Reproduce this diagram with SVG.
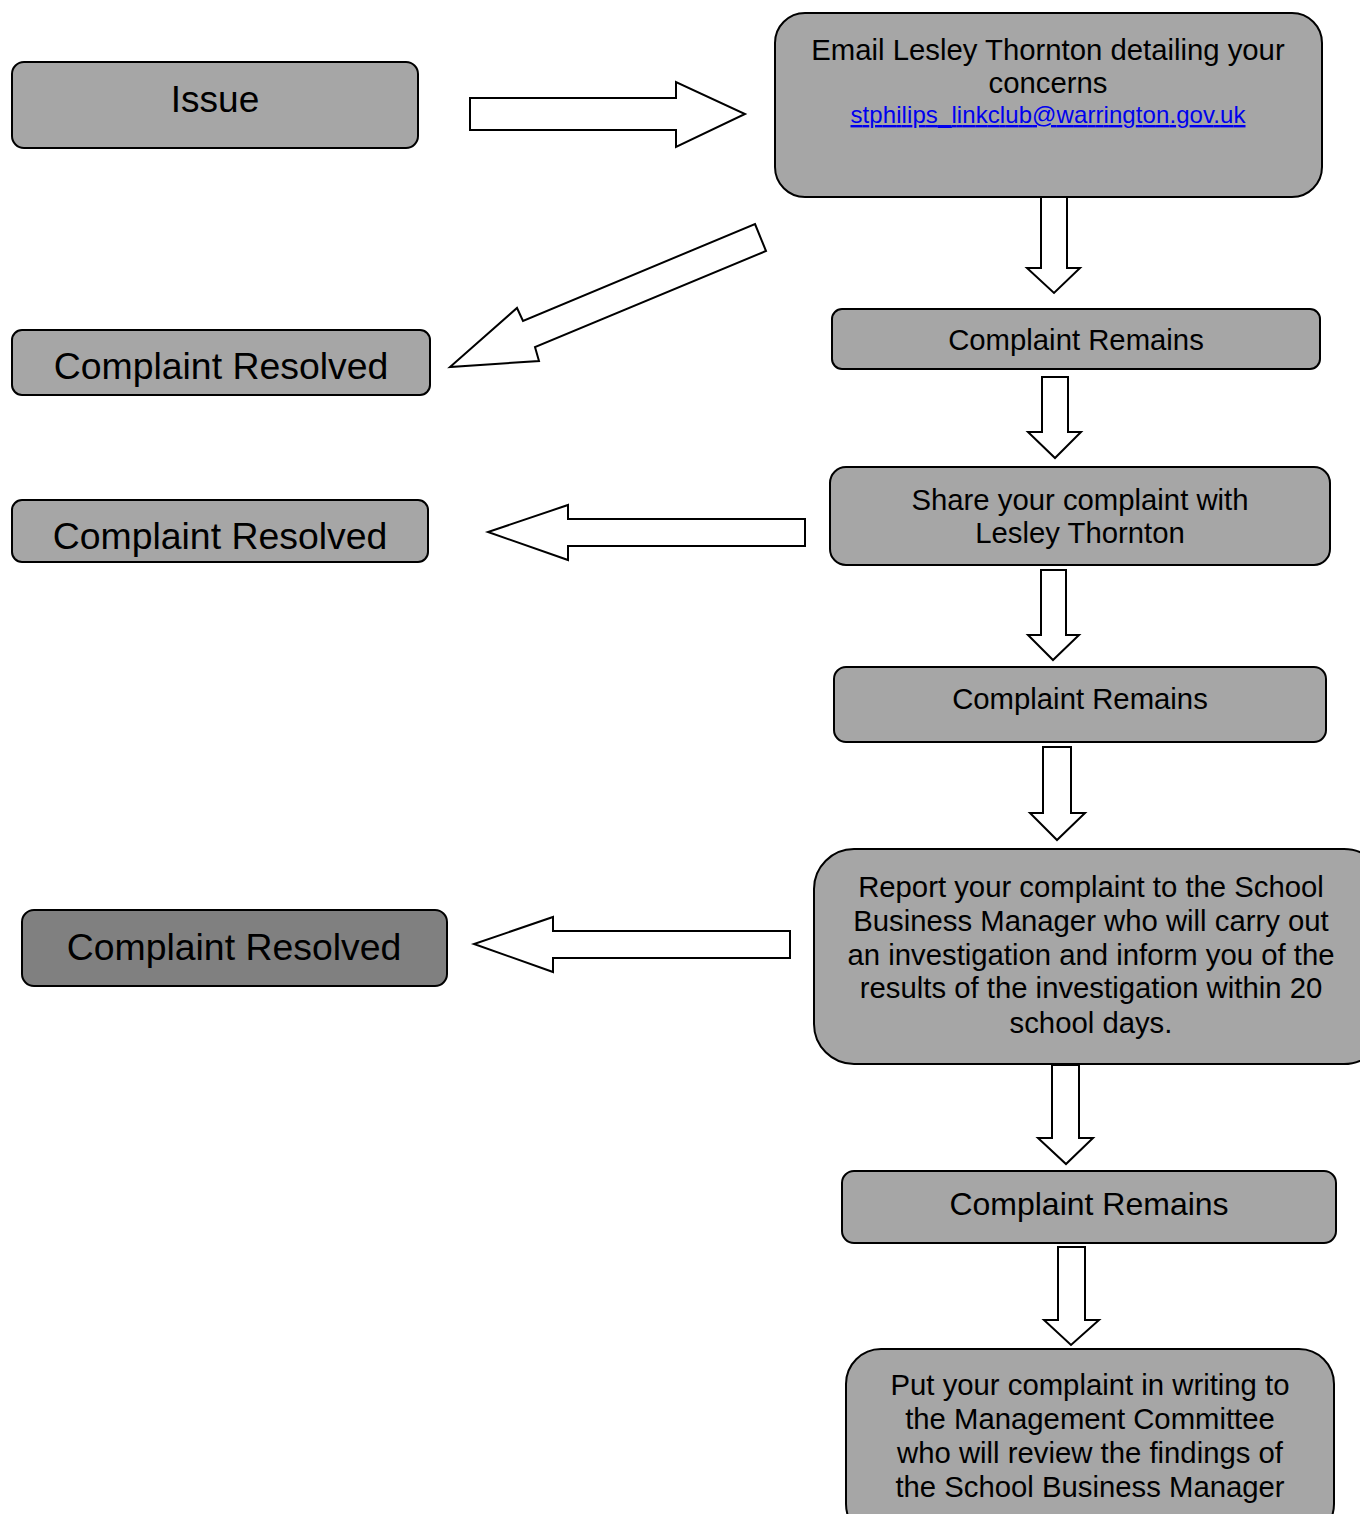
<svg xmlns="http://www.w3.org/2000/svg" width="1360" height="1514" viewBox="0 0 1360 1514">
<style>
.box{fill:#a6a6a6;stroke:#000;stroke-width:2}
.dark{fill:#808080;stroke:#000;stroke-width:2}
.arr{fill:#fff;stroke:#000;stroke-width:2;stroke-linejoin:miter}
text{font-family:"Liberation Sans",Arial,sans-serif;fill:#000;text-anchor:middle}
.big{font-size:37.4px}
.mid{font-size:29.3px}
.rem{font-size:29.3px}
.link{font-size:24px;fill:#0000ee;text-decoration:underline}
</style>
<rect width="1360" height="1514" fill="#fff"/>
<g id="connectors">
<polygon class="arr" points="470,98 676,98 676,82 745,114 676,147 676,130 470,130"/>
<polygon class="arr" points="755,224 766,251 535,347 539,361 450,367 517,308 523,321"/>
<polygon class="arr" points="1041,197 1067,197 1067,268 1080,268 1054,293 1027,268 1041,268"/>
<polygon class="arr" points="1042,377 1068,377 1068,432 1081,432 1055,458 1028,432 1042,432"/>
<polygon class="arr" points="805,519 568,519 568,505 488,532 568,560 568,546 805,546"/>
<polygon class="arr" points="1041,570 1066,570 1066,635 1079,635 1053,660 1028,635 1041,635"/>
<polygon class="arr" points="1043,747 1071,747 1071,813 1085,813 1057,840 1030,813 1043,813"/>
<polygon class="arr" points="790,931 553,931 553,917 474,944 553,972 553,958 790,958"/>
<polygon class="arr" points="1052,1065 1079,1065 1079,1138 1093,1138 1066,1164 1038,1138 1052,1138"/>
<polygon class="arr" points="1058,1247 1085,1247 1085,1320 1099,1320 1071,1345 1044,1320 1058,1320"/>
</g>
<g id="issue">
<rect class="box" x="12" y="62" width="406" height="86" rx="12"/>
<text x="215" y="112" style="font-size:37px">Issue</text>
</g>
<g id="email">
<rect class="box" x="775" y="13" width="547" height="184" rx="30"/>
<text class="mid" x="1048" y="60">Email Lesley Thornton detailing your</text>
<text class="mid" x="1048" y="93">concerns</text>
<text class="link" x="1048" y="123" textLength="395" lengthAdjust="spacing">stphilips_linkclub@warrington.gov.uk</text>
</g>
<g id="resolved1">
<rect class="box" x="12" y="330" width="418" height="65" rx="10"/>
<text class="big" x="221" y="379">Complaint Resolved</text>
</g>
<g id="remains1">
<rect class="box" x="832" y="309" width="488" height="60" rx="10"/>
<text class="rem" x="1076" y="350">Complaint Remains</text>
</g>
<g id="share">
<rect class="box" x="830" y="467" width="500" height="98" rx="16"/>
<text class="mid" x="1080" y="510">Share your complaint with</text>
<text class="mid" x="1080" y="543">Lesley Thornton</text>
</g>
<g id="resolved2">
<rect class="box" x="12" y="500" width="416" height="62" rx="10"/>
<text class="big" x="220" y="549">Complaint Resolved</text>
</g>
<g id="remains2">
<rect class="box" x="834" y="667" width="492" height="75" rx="12"/>
<text class="rem" x="1080" y="709">Complaint Remains</text>
</g>
<g id="report">
<rect class="box" x="814" y="849" width="570" height="215" rx="40"/>
<text class="mid" x="1091" y="897">Report your complaint to the School</text>
<text class="mid" x="1091" y="931">Business Manager who will carry out</text>
<text class="mid" x="1091" y="965">an investigation and inform you of the</text>
<text class="mid" x="1091" y="998">results of the investigation within 20</text>
<text class="mid" x="1091" y="1033">school days.</text>
</g>
<g id="resolved3">
<rect class="dark" x="22" y="910" width="425" height="76" rx="12"/>
<text class="big" x="234" y="960">Complaint Resolved</text>
</g>
<g id="remains3">
<rect class="box" x="842" y="1171" width="494" height="72" rx="12"/>
<text x="1089" y="1215" style="font-size:32px">Complaint Remains</text>
</g>
<g id="writing">
<rect class="box" x="846" y="1349" width="488" height="190" rx="35"/>
<text class="mid" x="1090" y="1395">Put your complaint in writing to</text>
<text class="mid" x="1090" y="1429">the Management Committee</text>
<text class="mid" x="1090" y="1463">who will review the findings of</text>
<text class="mid" x="1090" y="1497">the School Business Manager</text>
</g>
</svg>
